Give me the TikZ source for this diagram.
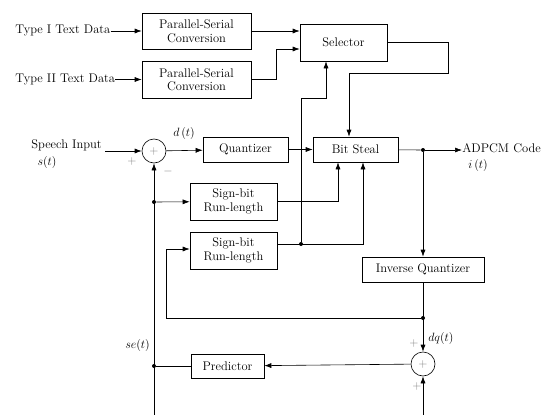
\documentclass[tikz,border=0pt]{standalone}
\usetikzlibrary{arrows.meta}
\begin{document}
\begin{tikzpicture}[x=1pt,y=-1pt,>={Latex[length=7pt,width=5pt]},line width=.6pt,
    font=\fontsize{12.5}{13.5}\selectfont,
    blk/.style={draw,align=center,inner sep=1pt},
    sum/.style={draw,circle,minimum size=24pt,inner sep=0pt,text=gray},
    sgn/.style={text=gray,font=\fontsize{13}{13}\selectfont},
    dot/.style={circle,fill,inner sep=0pt,minimum size=4pt}]
\useasboundingbox (0,0) rectangle (544,415);

% blocks
\node[blk,minimum width=109pt,minimum height=36pt](ps1) at (196.5,31){Parallel-Serial\\Conversion};
\node[blk,minimum width=109pt,minimum height=37pt](ps2) at (196.5,79.5){Parallel-Serial\\Conversion};
\node[blk,minimum width=87pt,minimum height=37pt](sel) at (343.5,42.5){Selector};
\node[blk,minimum width=85pt,minimum height=25pt](quant) at (245.5,149.5){Quantizer};
\node[blk,minimum width=85pt,minimum height=25pt](steal) at (355.5,149.5){Bit Steal};
\node[blk,minimum width=87pt,minimum height=37pt](sb1) at (233.5,201.5){Sign-bit\\Run-length};
\node[blk,minimum width=87pt,minimum height=37pt](sb2) at (233.5,250.5){Sign-bit\\Run-length};
\node[blk,minimum width=122pt,minimum height=25pt](invq) at (423,269.5){Inverse Quantizer};
\node[blk,minimum width=73pt,minimum height=24pt](pred) at (227.5,366){Predictor};
\node[sum](sum1) at (154,151){$+$};
\node[sum](sum2) at (423,364){$+$};

% texts
\node[anchor=west,inner sep=0pt](ti) at (15,31){Type I Text Data};
\node[anchor=west,inner sep=0pt](tii) at (15,79.5){Type II Text Data};
\node[anchor=east,inner sep=0pt](sp) at (102,145){Speech Input};
\node[inner sep=0pt] at (47,162){$s(t)$};
\node[anchor=west,inner sep=0pt](code) at (462,148){ADPCM Code};
\node[anchor=west,inner sep=0pt] at (468,165){$i\,(t)$};
\node[inner sep=0pt] at (184,133){$d\,(t)$};
\node[anchor=east,inner sep=0pt] at (150,345){$se(t)$};
\node[anchor=west,inner sep=0pt] at (428,338){$dq(t)$};
\node[sgn] at (132,161){$+$};
\node[sgn] at (168,171){$-$};
\node[sgn] at (414,343){$+$};
\node[sgn] at (417,386){$+$};

% junctions
\foreach \n/\p in {j1/{(154,202)},j2/{(301,244)},j3/{(423,150)},j4/{(423,318)},j5/{(154,366)}}
{
    \node[dot](\n) at \p {};
}
\coordinate (bl) at (154,415);
\coordinate (br) at (423,415);

% text path
\draw[->](ti)--(ps1);
\draw[->](tii)--(ps2);
\draw[->](ps1.east)--(ps1.east-|sel.west);
\draw[->](ps2.east)--(276,79.5)--(276,49)--(sel.west|-0,49);
\draw[->](j2)--(301,98)-|(sel.south-|326,0);
\draw[->](sel.east|-0,42)-|(448,73)-|(steal.north-|349,0);

% speech path
\draw[->]([xshift=3pt]sp.east|-sum1)--(sum1);
\draw[->](sum1)--(quant);
\draw[->](quant)--(steal);
\draw(steal)--(j3);
\draw[->](j3)--(j3-|code.west);
\draw[->](j3)--(invq);
\draw[->](sb1)-|(steal.south-|338,0);
\draw[->](sb2.east|-j2)-|(steal.south-|363,0);

% feedback
\draw[->](bl)--(sum1);
\draw[->](j1)--(sb1);
\draw(j5)--(pred);
\draw[->](invq)--(sum2);
\draw[->](j4)--(166,318)|-(sb2.west|-0,249);
\draw[->](sum2)--(pred);
\draw[->](br)--(sum2);

\end{tikzpicture}
\end{document}
